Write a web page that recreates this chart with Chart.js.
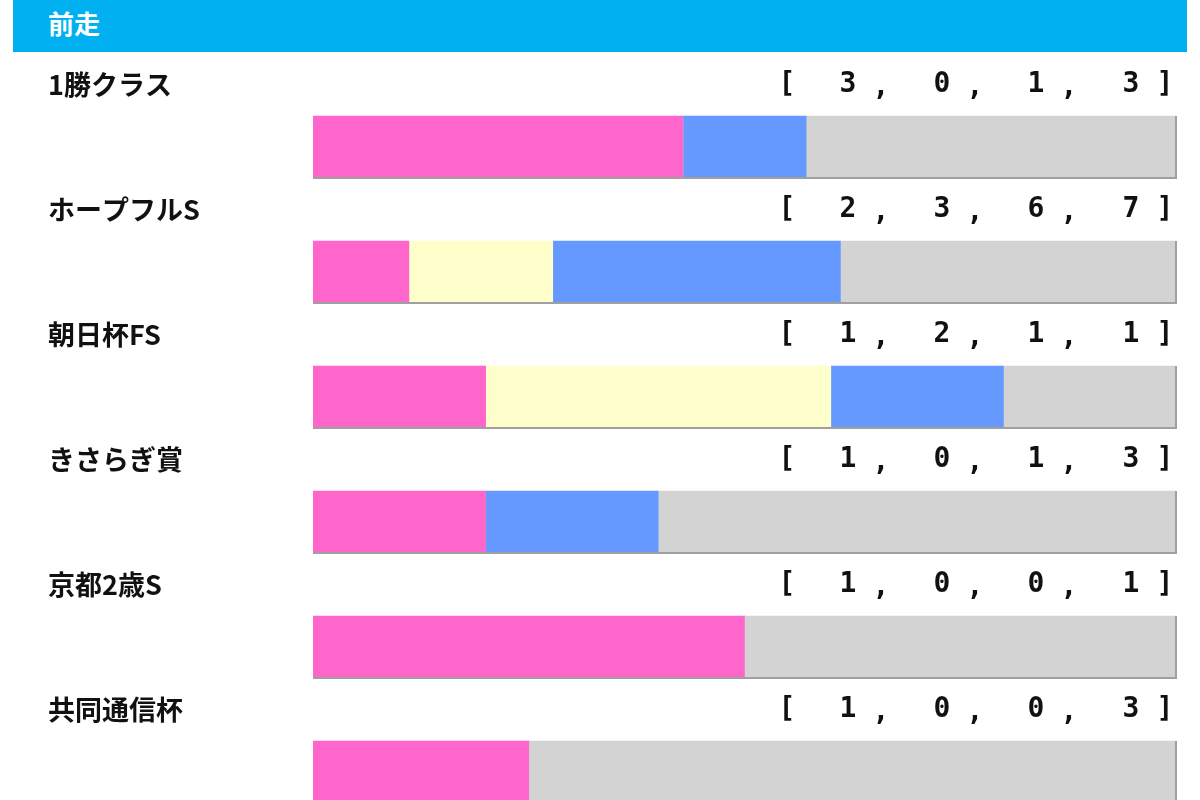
<!DOCTYPE html>
<html>
<head>
<meta charset="utf-8">
<script src="https://cdn.jsdelivr.net/npm/chart.js@4/dist/chart.umd.min.js"></script>
<style>
  body { margin: 0; width: 1200px; height: 800px; overflow: hidden; background: #fff; }
  .head { position: absolute; left: 13px; top: 0; width: 1174px; height: 52px; background: #00b0f0;
          color: #fff; font: bold 26px "Noto Sans CJK JP"; line-height: 46px; padding-left: 35px; box-sizing: border-box; }
  .wrap { position: absolute; left: 0; top: 0; width: 1200px; height: 835px; }
</style>
</head>
<body>
<div class="wrap"><canvas id="c"></canvas></div>
<div class="head">前走</div>
<script>
// 前走ごとの成績 [1着, 2着, 3着, 着外]
const races = ["1勝クラス", "ホープフルS", "朝日杯FS", "きさらぎ賞", "京都2歳S", "共同通信杯"]
const first  = [3, 2, 1, 1, 1, 1]
const second = [0, 3, 2, 0, 0, 0]
const third  = [1, 6, 1, 1, 0, 0]
const other  = [3, 7, 1, 3, 1, 3]

const colors = ["#ff66cc", "#ffffcc", "#6699ff", "#d3d3d3"]
const series = [first, second, third, other]

const totals = races.map((r, i) => first[i] + second[i] + third[i] + other[i])

// ラベルと [ , , , ] を描く
const labelPlugin = {
  id: "labels",
  afterDatasetsDraw(chart) {
    const ctx = chart.ctx
    const y = chart.scales.y
    const a = chart.chartArea
    ctx.save()
    for (let i = 0; i < races.length; i++) {
      const cy = y.getPixelForValue(i)
      const ty = cy - 62
      // 下と右の影
      ctx.strokeStyle = "#a0a0a0"
      ctx.lineWidth = 2
      ctx.beginPath()
      ctx.moveTo(a.left, cy + 31)
      ctx.lineTo(a.right, cy + 31)
      ctx.lineTo(a.right, cy - 31)
      ctx.stroke()

      ctx.fillStyle = "#111"
      ctx.textBaseline = "middle"
      ctx.textAlign = "left"
      ctx.font = 'bold 27px "Noto Sans CJK JP"'
      ctx.fillText(races[i], 48, ty)

      ctx.font = 'bold 28px "DejaVu Sans Mono"'
      ctx.textAlign = "center"
      ctx.fillText("[", 787, ty)
      ctx.fillText("]", 1165, ty)
      const xs = [848, 942, 1036, 1131]
      series.forEach((s, k) => {
        ctx.fillText(String(s[i]), xs[k], ty)
        if (k < 3) ctx.fillText(",", xs[k] + 33, ty + 3)
      })
    }
    ctx.restore()
  }
}

new Chart(document.getElementById("c"), {
  type: "bar",
  data: {
    labels: races,
    datasets: series.map((s, k) => ({
      data: s.map((v, i) => v / totals[i]),
      backgroundColor: colors[k],
      borderWidth: 0,
      barThickness: 62
    }))
  },
  options: {
    indexAxis: "y",
    responsive: true,
    maintainAspectRatio: false,
    animation: false,
    layout: { padding: { left: 313, right: 24, top: 84.5, bottom: 0.5 } },
    plugins: { legend: { display: false }, tooltip: { enabled: false } },
    scales: {
      x: { stacked: true, min: 0, max: 1, display: false },
      y: { stacked: true, display: false }
    }
  },
  plugins: [labelPlugin]
})
</script>
</body>
</html>
